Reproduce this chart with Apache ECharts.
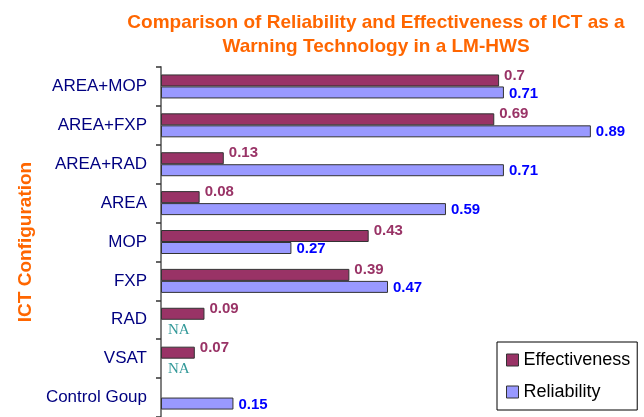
<!DOCTYPE html>
<html>
<head>
<meta charset="utf-8">
<script src="https://cdn.jsdelivr.net/npm/echarts@6/dist/echarts.min.js"></script>
<style>
  html, body { margin: 0; padding: 0; background: #fff; }
  #main { width: 644px; height: 417px; }
</style>
</head>
<body>
<div id="main"></div>
<script>
var categories = ['AREA+MOP', 'AREA+FXP', 'AREA+RAD', 'AREA', 'MOP', 'FXP', 'RAD', 'VSAT', 'Control Goup'];
var effectiveness = [0.7, 0.69, 0.13, 0.08, 0.43, 0.39, 0.09, 0.07, null];
var reliability = [0.71, 0.89, 0.71, 0.59, 0.27, 0.47, null, null, 0.15];

var chart = echarts.init(document.getElementById('main'));

// NA = no reliability value, shown as a label only
var relData = reliability.map(function (v) {
    if (v === null) {
        return {
            value: 0,
            itemStyle: { color: 'transparent', borderWidth: 0 },
            label: {
                formatter: 'NA',
                color: '#339999',
                fontFamily: 'Liberation Serif',
                fontWeight: 'normal',
                fontSize: 15,
                distance: 7,
                offset: [0, 4]
            }
        };
    }
    return v;
});

var option = {
    animation: false,
    title: {
        text: 'Comparison of Reliability and Effectiveness of ICT as a\nWarning Technology in a LM-HWS',
        left: 371,
        top: 6,
        textAlign: 'center',
        textStyle: {
            fontFamily: 'Arial',
            fontSize: 19,
            fontWeight: 'bold',
            color: '#FF6600',
            lineHeight: 24
        }
    },
    legend: {
        orient: 'vertical',
        left: 497,
        top: 342,
        padding: [8, 7, 8, 9],
        itemWidth: 12,
        itemHeight: 12,
        itemGap: 12,
        borderColor: '#000',
        borderWidth: 1,
        backgroundColor: '#fff',
        icon: 'rect',
        itemStyle: { borderColor: '#333', borderWidth: 1 },
        textStyle: { fontFamily: 'Arial', fontSize: 18, color: '#000', lineHeight: 20 },
        data: ['Effectiveness', 'Reliability']
    },
    grid: {
        left: 161,
        right: -4,
        top: 67,
        bottom: -4
    },
    xAxis: {
        type: 'value',
        min: 0,
        max: 1,
        show: false
    },
    yAxis: {
        type: 'category',
        inverse: true,
        data: categories,
        name: 'ICT Configuration',
        nameLocation: 'middle',
        nameGap: 124,
        nameTextStyle: {
            fontFamily: 'Arial',
            fontSize: 19,
            fontWeight: 'bold',
            color: '#FF6600'
        },
        axisLine: { lineStyle: { color: '#808080', width: 2 } },
        axisTick: { show: true, length: 5, lineStyle: { color: '#333', width: 1.5 } },
        axisLabel: {
            margin: 14,
            fontFamily: 'Arial',
            fontSize: 17,
            color: '#000080',
            padding: [3, 0, 0, 0]
        }
    },
    series: [
        {
            name: 'Effectiveness',
            type: 'bar',
            data: effectiveness,
            barWidth: 12,
            barGap: '0%',
            itemStyle: { color: '#993366', borderColor: '#333', borderWidth: 1 },
            label: {
                show: true,
                position: 'right',
                distance: 5,
                offset: [0, -5],
                fontFamily: 'Arial',
                fontSize: 15,
                fontWeight: 'bold',
                color: '#993366'
            }
        },
        {
            name: 'Reliability',
            type: 'bar',
            data: relData,
            barWidth: 12,
            barGap: '0%',
            itemStyle: { color: '#9999FF', borderColor: '#333', borderWidth: 1 },
            label: {
                show: true,
                position: 'right',
                distance: 5,
                offset: [0, 1],
                fontFamily: 'Arial',
                fontSize: 15,
                fontWeight: 'bold',
                color: '#0000FF'
            }
        }
    ]
};

chart.setOption(option);
</script>
</body>
</html>
